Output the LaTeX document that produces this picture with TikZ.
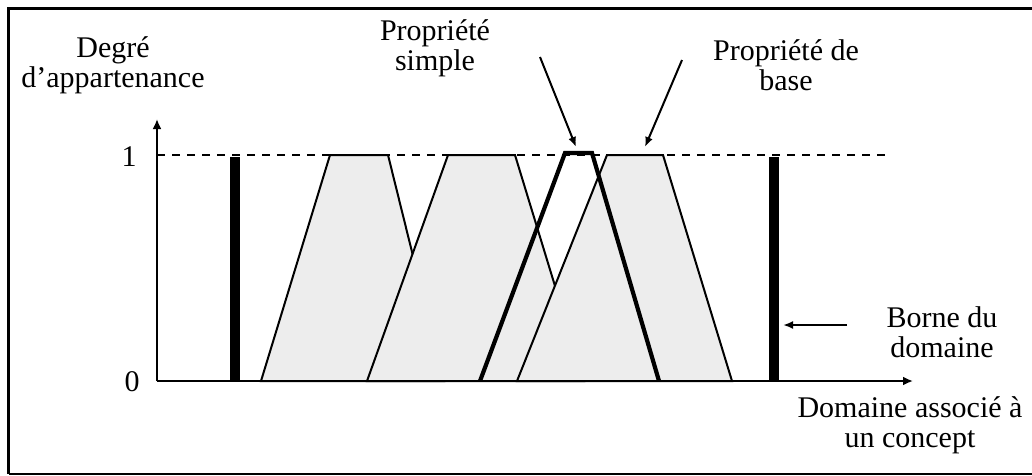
\documentclass[tikz,border=0pt]{standalone}
\usepackage{fontspec}
\setmainfont{Liberation Serif}
\usetikzlibrary{arrows.meta}
\definecolor{trapfill}{RGB}{237,237,237}
\begin{document}
\begin{tikzpicture}[x=1pt,y=-1pt,
  lbl/.style={align=center,inner sep=0pt,anchor=base,font=\fontsize{30}{30}\selectfont},
  num/.style={inner sep=0pt,font=\fontsize{30}{30}\selectfont},
  axis/.style={line width=2.4pt,-{Latex[length=10pt,width=9pt]}},
  trap/.style={fill=trapfill,draw=black,line width=2pt,line join=miter},
  bar/.style={line width=10pt},
  simpleprop/.style={draw=black,line width=4.2pt,line join=miter},
  pointer/.style={line width=2pt,-{Latex[length=10pt,width=8pt]}}]
\useasboundingbox (0,0) rectangle (1032,475);
% frame
\draw[line width=2.8pt] (1036,8.5) -- (8.5,8.5) -- (8.5,473.5);
\draw[line width=1.8pt] (8.5,473.8) -- (1036,473.8);
% key points
\coordinate (O) at (157,381);
\coordinate (ytip) at (157,119);
\coordinate (xtip) at (913,381);
\coordinate (d0) at (157,155);
\coordinate (d1) at (890,155);
% dashed level 1
\draw[line width=2pt,dash pattern=on 8pt off 7pt] (d0) -- (d1);
% trapezoids
\draw[trap] (261,381) -- (330,155) -- (388,155) -- (444,381) -- cycle;
\draw[trap] (367,381) -- (448,155) -- (515,155) -- (584,381) -- cycle;
\draw[trap] (517,381) -- (607,155) -- (663,155) -- (732,381) -- cycle;
% simple property
\coordinate (s1) at (480,381);
\coordinate (s2) at (565,153);
\coordinate (s3) at (592,153);
\coordinate (s4) at (659,381);
\draw[simpleprop] (s1) -- (s2) -- (s3) -- (s4);
% domain bounds
\coordinate (b1t) at (235,157); \coordinate (b1b) at (235,381);
\coordinate (b2t) at (774,157); \coordinate (b2b) at (774,381);
\draw[bar] (b1t) -- (b1b);
\draw[bar] (b2t) -- (b2b);
% axes
\draw[axis] (O) -- (ytip);
\draw[axis] (O) -- (xtip);
% labels (anchor = baseline of last line)
\node[lbl] (deg) at (113,87) {Degré\\d’appartenance};
\node[num] (one) at (129,157) {1};
\node[num] (zero) at (132,382) {0};
\node[lbl] (simple) at (435,70) {Propriété\\simple};
\node[lbl] (base) at (786,90) {Propriété de\\base};
\node[lbl] (borne) at (942,357) {Borne du\\domaine};
\node[lbl] (dom) at (910,447) {Domaine associé à\\un concept};
% pointers
\coordinate (p1s) at (540,57);
\coordinate (p1e) at (576,147);
\coordinate (p2s) at (682,60);
\coordinate (p2e) at (645,147);
\coordinate (p3s) at (847,325);
\coordinate (p3e) at (783,325);
\draw[pointer] (p1s) -- (p1e);
\draw[pointer] (p2s) -- (p2e);
\draw[pointer] (p3s) -- (p3e);
\end{tikzpicture}
\end{document}
